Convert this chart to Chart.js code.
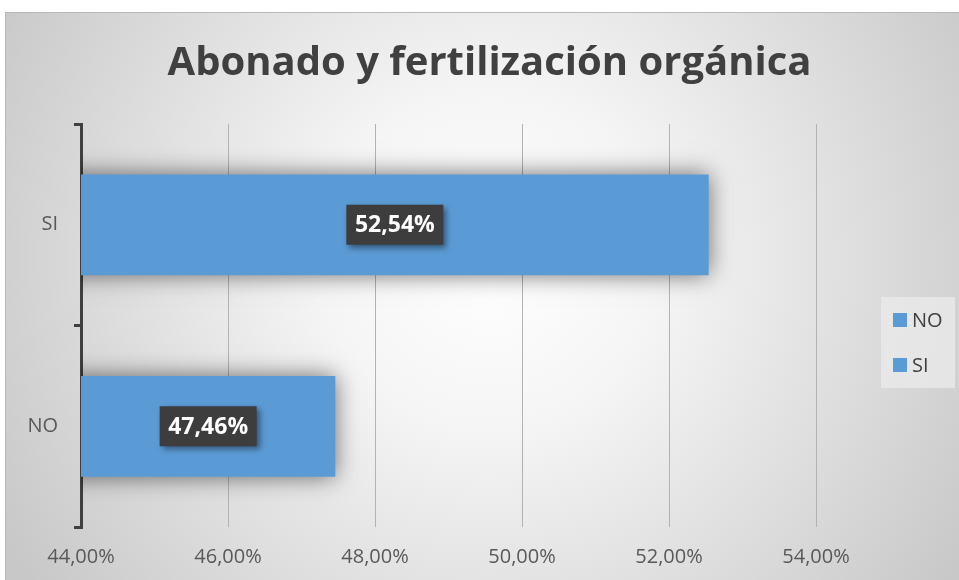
<!DOCTYPE html>
<html>
<head>
<meta charset="utf-8">
<script src="https://cdn.jsdelivr.net/npm/chart.js@4/dist/chart.umd.min.js"></script>
<style>
  html, body { margin: 0; padding: 0; background: #ffffff; }
  #wrap { width: 959px; height: 580px; position: relative; }
</style>
</head>
<body>
<div id="wrap"><canvas id="c" width="959" height="580"></canvas></div>
<script>
const chartTitle = "Abonado y fertilización orgánica";
const categories = ["SI", "NO"];
const values = [52.54, 47.46];
const legendLabels = ["NO", "SI"];
const xTicks = [44, 46, 48, 50, 52, 54];

const BAR = "#5B9BD5";
const TXT = "#404040";
const fmt = v => Number(v).toFixed(2).replace(".", ",") + "%";

const bgPlugin = {
  id: "bg",
  beforeDraw(chart) {
    const ctx = chart.ctx;
    ctx.save();
    ctx.fillStyle = "#ffffff";
    ctx.fillRect(0, 0, chart.width, chart.height);
    const g = ctx.createRadialGradient(490, 260, 0, 490, 260, 560);
    g.addColorStop(0, "#ffffff");
    g.addColorStop(0.3, "#f5f5f5");
    g.addColorStop(1, "#c8c8c8");
    ctx.fillStyle = g;
    ctx.fillRect(5, 12, chart.width - 5, chart.height - 12);
    ctx.strokeStyle = "#b8b8b8";
    ctx.lineWidth = 1;
    ctx.strokeRect(5.5, 12.5, chart.width, chart.height);
    ctx.restore();
  }
};

const shadowPlugin = {
  id: "barShadow",
  beforeDatasetDraw(chart) {
    const ctx = chart.ctx;
    ctx.save();
    ctx.shadowColor = "rgba(0,0,0,0.55)";
    ctx.shadowBlur = 22;
    ctx.shadowOffsetX = 0;
    ctx.shadowOffsetY = 0;
  },
  afterDatasetDraw(chart) {
    chart.ctx.restore();
  }
};

const overlayPlugin = {
  id: "overlay",
  afterDraw(chart) {
    const ctx = chart.ctx;
    const xs = chart.scales.x;
    const ys = chart.scales.y;
    // value labels
    ctx.save();
    ctx.font = "bold 23px 'Open Sans', sans-serif";
    ctx.textAlign = "center";
    ctx.textBaseline = "middle";
    for (let i = 0; i < values.length; i++) {
      const x0 = xs.getPixelForValue(xs.min);
      const x1 = xs.getPixelForValue(values[i]);
      const cx = (x0 + x1) / 2;
      const cy = ys.getPixelForValue(i);
      const txt = fmt(values[i]);
      const w = 97, h = 40;
      ctx.save();
      ctx.shadowColor = "rgba(0,0,0,0.45)";
      ctx.shadowBlur = 6;
      ctx.shadowOffsetX = 3;
      ctx.shadowOffsetY = 3;
      ctx.fillStyle = "#3d3d3d";
      ctx.fillRect(cx - w / 2, cy - h / 2, w, h);
      ctx.restore();
      ctx.fillStyle = "#ffffff";
      ctx.fillText(txt, cx, cy + 1);
    }
    ctx.restore();

    // legend
    ctx.save();
    ctx.fillStyle = "rgba(235,235,235,0.75)";
    ctx.fillRect(881, 297, 74, 91);
    ctx.font = "20px 'Open Sans', sans-serif";
    ctx.textBaseline = "middle";
    ctx.textAlign = "left";
    legendLabels.forEach((lab, i) => {
      const cy = 320 + i * 45;
      ctx.fillStyle = BAR;
      ctx.fillRect(893, cy - 7, 14, 14);
      ctx.fillStyle = TXT;
      ctx.fillText(lab, 912, cy + 1);
    });
    ctx.restore();
  }
};

new Chart(document.getElementById("c"), {
  type: "bar",
  data: {
    labels: categories,
    datasets: [{
      data: values,
      backgroundColor: BAR,
      borderWidth: 0,
      barPercentage: 0.5,
      categoryPercentage: 1.0
    }]
  },
  plugins: [bgPlugin, shadowPlugin, overlayPlugin],
  options: {
    indexAxis: "y",
    responsive: false,
    animation: false,
    devicePixelRatio: 1,
    layout: { padding: { top: 12, left: 20, right: 0, bottom: 0 } },
    plugins: {
      legend: { display: false },
      tooltip: { enabled: false },
      title: {
        display: true,
        text: chartTitle,
        color: TXT,
        font: { family: "'Open Sans', sans-serif", size: 40, weight: "bold" },
        padding: { top: 28, bottom: 36 }
      }
    },
    scales: {
      x: {
        min: 44,
        max: 54,
        afterBuildTicks(scale) { scale.ticks = xTicks.map(v => ({ value: v })); },
        ticks: {
          color: "#595959",
          font: { family: "'Open Sans', sans-serif", size: 20 },
          padding: 18,
          callback: v => fmt(v)
        },
        grid: { color: "#b3b3b3", lineWidth: 1, drawTicks: false },
        border: { display: false },
        afterFit(scale) { scale.height = 53; }
      },
      y: {
        ticks: {
          color: "#595959",
          font: { family: "'Open Sans', sans-serif", size: 20 },
          padding: 16
        },
        grid: { offset: true, drawOnChartArea: false, drawTicks: true, tickLength: 7, color: "#404040", lineWidth: 3 },
        border: { display: true, color: "#404040", width: 3 },
        afterFit(scale) { scale.width = 61; }
      },
      spacer: {
        type: "linear",
        position: "right",
        axis: "y",
        display: true,
        ticks: { display: false },
        grid: { display: false, drawOnChartArea: false },
        border: { display: false },
        afterFit(scale) { scale.width = 143; }
      }
    }
  }
});
</script>
</body>
</html>
